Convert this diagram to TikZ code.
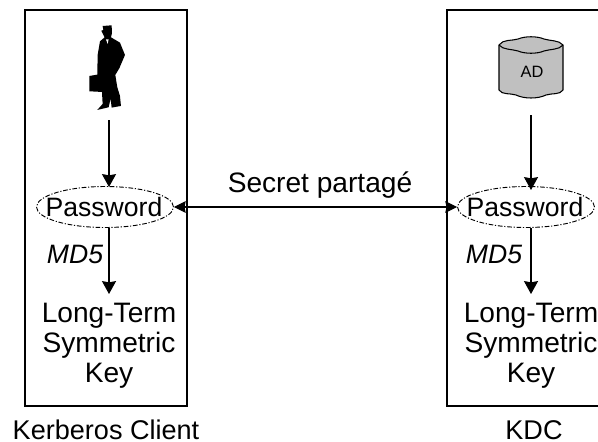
\documentclass[tikz,border=0pt]{standalone}
\usepackage{fontspec}
\setmainfont{Liberation Sans}
\usetikzlibrary{shapes.geometric, arrows.meta, positioning}
\definecolor{dbgray}{RGB}{192,192,192}
\tikzset{
  txt/.style={font=\fontsize{22.7}{24}\selectfont, inner sep=0pt, align=center},
  keytxt/.style={font=\fontsize{24}{25.7}\selectfont, inner sep=0pt, align=center},
  lbl/.style={font=\fontsize{23.1}{24}\selectfont, inner sep=0pt, anchor=base},
  pwd/.style={draw, ellipse, dash pattern=on 4pt off 1.5pt on 1pt off 1.5pt, line width=0.8pt, minimum width=137*0.03cm, minimum height=41*0.03cm, inner sep=0pt},
  arr/.style={-{Stealth[length=11pt,width=12pt,inset=1pt]}, line width=0.9pt},
  darr/.style={{Stealth[length=10pt,width=10pt,inset=1pt]}-{Stealth[length=10pt,width=10pt,inset=1pt]}, line width=0.9pt}
}
\begin{document}
\begin{tikzpicture}[x=0.03cm, y=-0.03cm]
  \useasboundingbox (0,0) rectangle (598,441);
  % Boxes
  \node[draw, line width=0.9pt, minimum width=162*0.03cm, minimum height=396*0.03cm, inner sep=0pt] (client) at (106,208) {};
  \draw[line width=0.9pt] (598,10) -- (447,10) -- (447,406) -- (598,406);

  % Person
  \begin{scope}[shift={(60,0)}, x=0.01cm, y=-0.01cm]
    \fill[black] (128,78) -- (155,76) -- (156,100) -- (153,112) -- (180,128) -- (195,165) -- (178,205) -- (166,225)
      -- (172,262) -- (180,288) -- (183,318) -- (155,323) -- (152,296) -- (146,322) -- (112,330) -- (128,312) -- (126,276)
      -- (88,274) -- (88,228) -- (112,224) -- (113,165) -- (120,124) -- (134,112) -- (124,92) -- (130,90) -- cycle;
    \fill[white] (138,118) -- (146,118) -- (143,132) -- cycle;
  \end{scope}
  \coordinate (userfoot) at (109,120);

  % AD store
  \draw[fill=dbgray, line width=0.9pt] (499,45) .. controls (503,39) and (512,41) .. (518,39) .. controls (525,36) and (537,36) .. (544,39)
    .. controls (550,41) and (559,40) .. (563,45) -- (563,90) .. controls (560,95) and (552,93) .. (546,95)
    .. controls (538,99) and (524,99) .. (516,95) .. controls (510,93) and (502,95) .. (499,90) -- cycle;
  \draw[line width=0.9pt] (499,45) .. controls (503,50) and (512,49) .. (518,51) .. controls (525,54) and (537,54) .. (544,51)
    .. controls (550,49) and (559,50) .. (563,45);
  \node[font=\fontsize{14}{15}\selectfont, inner sep=0pt] (ad) at (532,72) {AD};
  \coordinate (adfoot) at (531,115);

  % Passwords
  \node[pwd] (pwdl) at (105,207) {};
  \node[pwd] (pwdr) at (526,207) {};
  \node[txt] (pwdltxt) at (104,207) {Password};
  \node[txt] (pwdrtxt) at (525,207) {Password};

  % Keys
  \node[keytxt] (keyl) at (109,346) {Long-Term\\Symmetric\\Key};
  \node[keytxt] (keyr) at (531,346) {Long-Term\\Symmetric\\Key};
  \node[txt, font=\fontsize{22.7}{24}\selectfont\itshape] (md5l) at (75,254) {MD5};
  \node[txt, font=\fontsize{22.7}{24}\selectfont\itshape] (md5r) at (494,254) {MD5};

  % Arrows
  \draw[arr] (userfoot) -- (109,187);
  \draw[arr] (adfoot) -- (531,190);
  \draw[arr] (109,228) -- (109,294);
  \draw[arr] (531,228) -- (531,294);
  \draw[darr] (pwdl.east) -- (pwdr.west);

  % Labels
  \node[txt, font=\fontsize{24}{24}\selectfont] (secret) at (320,185) {Secret partagé};
  \node[lbl] (clientlbl) at (106,439) {Kerberos Client};
  \node[lbl] (kdclbl) at (534,439) {KDC};
\end{tikzpicture}
\end{document}
